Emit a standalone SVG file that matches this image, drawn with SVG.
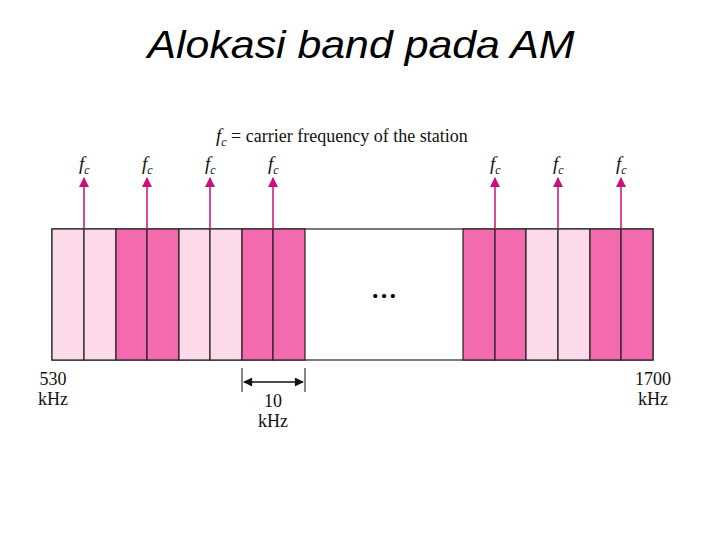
<svg xmlns="http://www.w3.org/2000/svg" width="720" height="540" viewBox="0 0 720 540">
<style>
.l{fill:#fcdaea;stroke:#222;stroke-width:1.2}
.d{fill:#f46aae;stroke:#222;stroke-width:1.2}
.a{stroke:#c8107a;stroke-width:1.5}
.t{font-family:"Liberation Serif",serif;font-size:18px;fill:#111}
.f{font-family:"Liberation Serif",serif;font-size:19px;font-style:italic;fill:#111}
</style>
<defs>
<marker id="ah" viewBox="0 0 10 10" refX="9" refY="5" markerWidth="7" markerHeight="8" orient="auto"><path d="M0,0L10,5L0,10z" fill="#c8107a"/></marker>
<marker id="bk" viewBox="0 0 10 10" refX="9" refY="5" markerWidth="7" markerHeight="6" orient="auto-start-reverse"><path d="M0,0L10,5L0,10z" fill="#111"/></marker>
</defs>
<text x="361" y="58" text-anchor="middle" font-family="Liberation Sans,Arial,sans-serif" font-size="38" font-style="italic" textLength="427" lengthAdjust="spacingAndGlyphs">Alokasi band pada AM</text>
<text x="216" y="142" class="f">f<tspan font-size="12" dy="4">c</tspan><tspan class="t" font-style="normal" dy="-4"> = carrier frequency of the station</tspan></text>
<g id="band">
<rect x="52" y="229" width="601" height="131" fill="#fff" stroke="#222" stroke-width="1.2"/>
<rect class="l" x="52" y="229" width="32" height="131"/><rect class="l" x="84" y="229" width="32" height="131"/>
<rect class="d" x="116" y="229" width="31" height="131"/><rect class="d" x="147" y="229" width="32" height="131"/>
<rect class="l" x="179" y="229" width="31" height="131"/><rect class="l" x="210" y="229" width="32" height="131"/>
<rect class="d" x="242" y="229" width="31" height="131"/><rect class="d" x="273" y="229" width="32" height="131"/>
<rect class="d" x="463" y="229" width="32" height="131"/><rect class="d" x="495" y="229" width="31" height="131"/>
<rect class="l" x="526" y="229" width="32" height="131"/><rect class="l" x="558" y="229" width="32" height="131"/>
<rect class="d" x="590" y="229" width="31" height="131"/><rect class="d" x="621" y="229" width="32" height="131"/>
<text x="384" y="298" font-family="Liberation Serif,serif" font-size="26" font-weight="bold" text-anchor="middle">…</text>
</g>
<g id="connectors">
<line class="a" x1="84" y1="229" x2="84" y2="178" marker-end="url(#ah)"/>
<line class="a" x1="147" y1="229" x2="147" y2="178" marker-end="url(#ah)"/>
<line class="a" x1="210" y1="229" x2="210" y2="178" marker-end="url(#ah)"/>
<line class="a" x1="273" y1="229" x2="273" y2="178" marker-end="url(#ah)"/>
<line class="a" x1="495" y1="229" x2="495" y2="178" marker-end="url(#ah)"/>
<line class="a" x1="558" y1="229" x2="558" y2="178" marker-end="url(#ah)"/>
<line class="a" x1="621" y1="229" x2="621" y2="178" marker-end="url(#ah)"/>
<line x1="242" y1="368" x2="242" y2="392" stroke="#111"/>
<line x1="305" y1="368" x2="305" y2="392" stroke="#111"/>
<line x1="244" y1="382" x2="303" y2="382" stroke="#111" stroke-width="1.5" marker-start="url(#bk)" marker-end="url(#bk)"/>
</g>
<g id="labels">
<text x="79" y="170" class="f">f<tspan font-size="12" dy="4">c</tspan></text>
<text x="142" y="170" class="f">f<tspan font-size="12" dy="4">c</tspan></text>
<text x="205" y="170" class="f">f<tspan font-size="12" dy="4">c</tspan></text>
<text x="268" y="170" class="f">f<tspan font-size="12" dy="4">c</tspan></text>
<text x="490" y="170" class="f">f<tspan font-size="12" dy="4">c</tspan></text>
<text x="553" y="170" class="f">f<tspan font-size="12" dy="4">c</tspan></text>
<text x="616" y="170" class="f">f<tspan font-size="12" dy="4">c</tspan></text>
<text x="53" y="385" class="t" text-anchor="middle">530</text>
<text x="53" y="405" class="t" text-anchor="middle">kHz</text>
<text x="273" y="407" class="t" text-anchor="middle">10</text>
<text x="273" y="427" class="t" text-anchor="middle">kHz</text>
<text x="653" y="385" class="t" text-anchor="middle">1700</text>
<text x="653" y="405" class="t" text-anchor="middle">kHz</text>
</g>
</svg>
